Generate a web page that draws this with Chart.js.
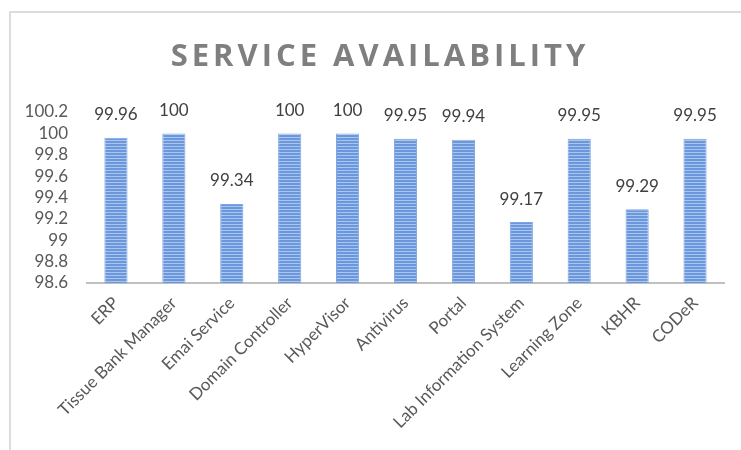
<!DOCTYPE html>
<html>
<head>
<meta charset="utf-8">
<script src="https://cdn.jsdelivr.net/npm/chart.js@4.4.0/dist/chart.umd.min.js"></script>
<style>
  html, body { margin: 0; padding: 0; background: #fff; }
  #wrap { position: relative; width: 741px; height: 450px; }
  #frame { position: absolute; left: 9px; top: 11px; right: -4px; bottom: -4px;
           border-top: 2px solid #dcdcdc; border-left: 2px solid #dcdcdc; }
  canvas { position: absolute; left: 0; top: 0; }
</style>
</head>
<body>
<div id="wrap">
  <div id="frame"></div>
  <canvas id="chartServicos" width="741" height="450"></canvas>
</div>
<script>
// dados do gráfico
const servicos = ['ERP', 'Tissue Bank Manager', 'Emai Service', 'Domain Controller', 'HyperVisor',
  'Antivirus', 'Portal', 'Lab Information System', 'Learning Zone', 'KBHR', 'CODeR'];
const disponibilidade = [99.96, 100, 99.34, 100, 100, 99.95, 99.94, 99.17, 99.95, 99.29, 99.95];
const rotulosDados = ['99.96', '100', '99.34', '100', '100', '99.95', '99.94', '99.17', '99.95', '99.29', '99.95'];
const titulo = 'SERVICE AVAILABILITY';

// listras horizontais das barras
const pat = document.createElement('canvas');
pat.width = 4; pat.height = 3;
const pctx = pat.getContext('2d');
pctx.fillStyle = '#6b98dc';
pctx.fillRect(0, 0, 4, 3);
pctx.fillStyle = '#aac5ee';
pctx.fillRect(0, 2, 4, 1);

const ctx = document.getElementById('chartServicos').getContext('2d');
const listras = ctx.createPattern(pat, 'repeat');

const rotulos = {
  id: 'rotulos',
  afterDatasetsDraw(chart) {
    const c = chart.ctx;
    const meta = chart.getDatasetMeta(0);
    c.save();
    c.font = '17px Lato';
    c.fillStyle = '#404040';
    c.textAlign = 'center';
    c.textBaseline = 'middle';
    meta.data.forEach((bar, i) => {
      c.fillText(rotulosDados[i], bar.x, bar.y - 23);
    });
    c.restore();
  },
  afterDraw(chart) {
    const c = chart.ctx;
    c.save();
    c.font = 'bold 31px "Open Sans"';
    c.letterSpacing = '4px';
    c.fillStyle = '#7f7f7f';
    c.textAlign = 'center';
    c.textBaseline = 'middle';
    c.fillText(titulo, 380, 57);
    c.restore();
  }
};

new Chart(ctx, {
  type: 'bar',
  data: {
    labels: servicos,
    datasets: [{
      data: disponibilidade,
      backgroundColor: listras,
      borderColor: '#7ea6e0',
      borderWidth: 1,
      categoryPercentage: 1,
      barPercentage: 0.4
    }]
  },
  options: {
    responsive: false,
    animation: false,
    layout: { padding: { left: 10, top: 112, right: 17, bottom: 0 } },
    plugins: {
      legend: { display: false },
      tooltip: { enabled: false }
    },
    scales: {
      x: {
        grid: { display: false, drawTicks: false },
        border: { display: true, color: '#c0c0c0', width: 2 },
        ticks: {
          color: '#595959',
          font: { family: 'Lato', size: 17 },
          maxRotation: 45, minRotation: 45,
          padding: 10,
          autoSkip: false
        },
        afterFit(axis) { axis.height = 167; }
      },
      y: {
        min: 98.6, max: 100.2,
        grid: { display: false, drawTicks: false },
        border: { display: false },
        ticks: {
          stepSize: 0.2,
          autoSkip: false,
          color: '#595959',
          font: { family: 'Lato', size: 17 },
          padding: 19,
          callback: v => String(Math.round(v * 10) / 10)
        },
        afterFit(axis) { axis.width = 77; }
      }
    }
  },
  plugins: [rotulos]
});
</script>
</body>
</html>
